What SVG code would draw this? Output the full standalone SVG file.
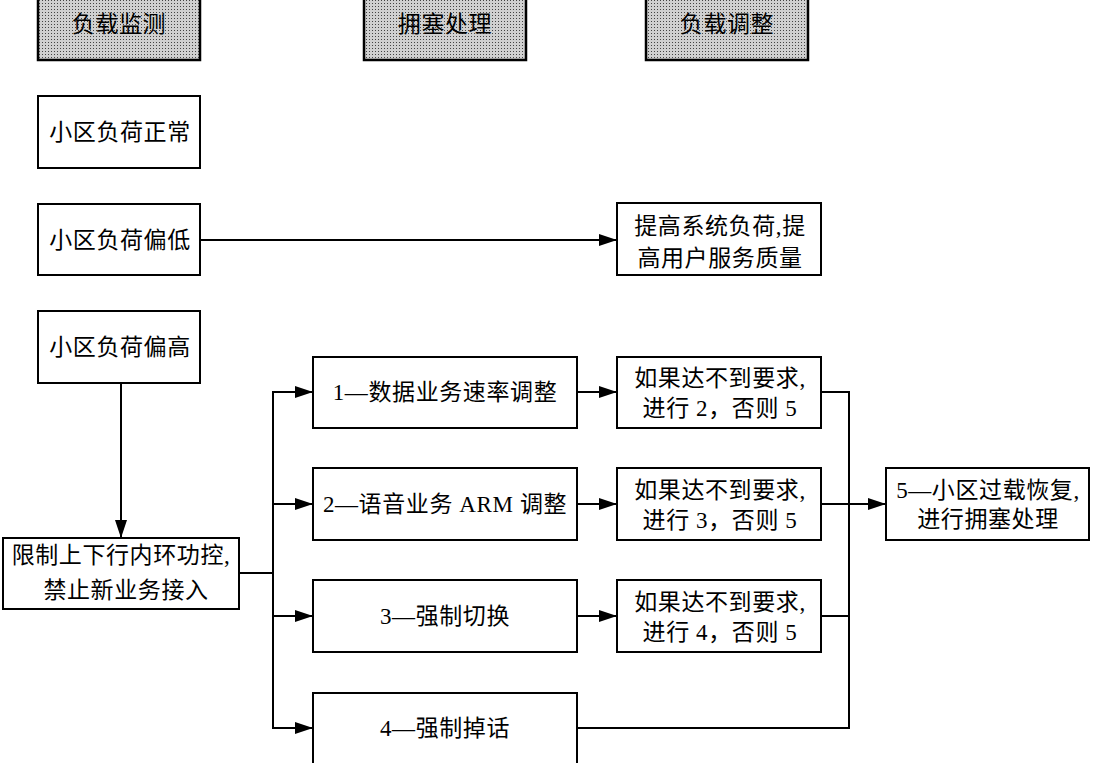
<svg xmlns="http://www.w3.org/2000/svg" width="1094" height="763" viewBox="0 0 1094 763">
<style>
.box{fill:#fff;stroke:#000;stroke-width:2}
.hdr{fill:url(#dots);stroke:#000;stroke-width:2.5}
.t{font-family:"Liberation Serif","Noto Sans CJK SC",serif;font-size:23px;letter-spacing:0.6px;fill:#000;text-anchor:middle;dominant-baseline:central}
.c{fill:none;stroke:#000;stroke-width:2}
</style>
<defs>
<pattern id="dots" width="3" height="3" patternUnits="userSpaceOnUse">
<rect width="3" height="3" fill="#d0d0d0"/>
<rect width="1" height="1" fill="#444"/>
</pattern>
<marker id="ah" markerUnits="userSpaceOnUse" markerWidth="18" markerHeight="12" refX="18" refY="6" orient="auto">
<path d="M0,0 L18,6 L0,12 Z" fill="#000"/>
</marker>
</defs>
<rect width="1094" height="763" fill="#fff"/>
<g id="h1"><rect class="hdr" x="38" y="-12" width="162" height="72"/><text class="t" x="119" y="24">负载监测</text></g>
<g id="h2"><rect class="hdr" x="364" y="-12" width="162" height="72"/><text class="t" x="445" y="24">拥塞处理</text></g>
<g id="h3"><rect class="hdr" x="646" y="-12" width="162" height="72"/><text class="t" x="727" y="24">负载调整</text></g>
<g id="n_normal"><rect class="box" x="38" y="96" width="162" height="72"/><text class="t" x="120" y="132">小区负荷正常</text></g>
<g id="n_low"><rect class="box" x="38" y="204" width="162" height="71"/><text class="t" x="120" y="240">小区负荷偏低</text></g>
<g id="n_raise"><rect class="box" x="617" y="203" width="204" height="72"/><text class="t" x="720" y="226">提高系统负荷,提</text><text class="t" x="720" y="258">高用户服务质量</text></g>
<g id="n_high"><rect class="box" x="38" y="311" width="162" height="72"/><text class="t" x="120" y="347">小区负荷偏高</text></g>
<g id="n_limit"><rect class="box" x="3" y="538" width="236" height="71"/><text class="t" x="121" y="555">限制上下行内环功控,</text><text class="t" x="126" y="590">禁止新业务接入</text></g>
<g id="s1"><rect class="box" x="313" y="357" width="264" height="71"/><text class="t" x="445" y="392">1—数据业务速率调整</text></g>
<g id="s2"><rect class="box" x="313" y="468" width="264" height="72"/><text class="t" x="445" y="504">2—语音业务 ARM 调整</text></g>
<g id="s3"><rect class="box" x="313" y="580" width="264" height="72"/><text class="t" x="445" y="616">3—强制切换</text></g>
<g id="s4"><rect class="box" x="313" y="693" width="264" height="90"/><text class="t" x="445" y="728">4—强制掉话</text></g>
<g id="c1"><rect class="box" x="617" y="357" width="204" height="71"/><text class="t" x="720" y="378">如果达不到要求,</text><text class="t" x="720" y="408">进行 2，否则 5</text></g>
<g id="c2"><rect class="box" x="617" y="468" width="204" height="72"/><text class="t" x="720" y="490">如果达不到要求,</text><text class="t" x="720" y="520">进行 3，否则 5</text></g>
<g id="c3"><rect class="box" x="617" y="580" width="204" height="72"/><text class="t" x="720" y="602">如果达不到要求,</text><text class="t" x="720" y="632">进行 4，否则 5</text></g>
<g id="n5"><rect class="box" x="886" y="468" width="203" height="72"/><text class="t" x="988" y="490">5—小区过载恢复,</text><text class="t" x="988" y="519">进行拥塞处理</text></g>
<g id="connectors">
<line class="c" x1="200" y1="240" x2="617" y2="240" marker-end="url(#ah)"/>
<line class="c" x1="121" y1="383" x2="121" y2="538" marker-end="url(#ah)"/>
<line class="c" x1="239" y1="573" x2="273" y2="573"/>
<line class="c" x1="273" y1="391" x2="273" y2="729"/>
<line class="c" x1="272" y1="392" x2="313" y2="392" marker-end="url(#ah)"/>
<line class="c" x1="272" y1="504" x2="313" y2="504" marker-end="url(#ah)"/>
<line class="c" x1="272" y1="616" x2="313" y2="616" marker-end="url(#ah)"/>
<line class="c" x1="272" y1="728" x2="313" y2="728" marker-end="url(#ah)"/>
<line class="c" x1="577" y1="392" x2="617" y2="392" marker-end="url(#ah)"/>
<line class="c" x1="577" y1="504" x2="617" y2="504" marker-end="url(#ah)"/>
<line class="c" x1="577" y1="616" x2="617" y2="616" marker-end="url(#ah)"/>
<polyline class="c" points="821,392 849,392 849,728 577,728"/>
<line class="c" x1="821" y1="616" x2="849" y2="616"/>
<line class="c" x1="821" y1="504" x2="886" y2="504" marker-end="url(#ah)"/>
</g>
</svg>
